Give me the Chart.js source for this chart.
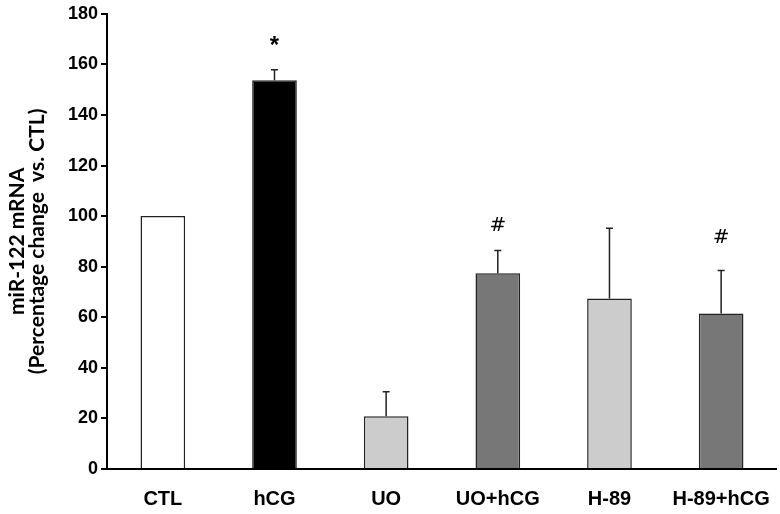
<!DOCTYPE html>
<html lang="en">
<head>
    <meta charset="UTF-8">
    <title>miR-122 mRNA</title>
    <style>
        body {
            margin: 0;
            padding: 0;
            background-color: #fff;
        }

        #chart-container {
            width: 780px;
            height: 514px;
        }
    </style>
</head>
<body>
    <div id="chart-container">
        <canvas id="chart"></canvas>
    </div>

    <script src="https://cdn.jsdelivr.net/npm/chart.js"></script>
    <script>
        var groups = ['CTL', 'hCG', 'UO', 'UO+hCG', 'H-89', 'H-89+hCG'];
        var means = [100, 153.7, 20.9, 77.4, 67.4, 61.5];
        var errors = [0, 4.2, 9.6, 9.0, 27.8, 17.0];
        var marks = ['', '*', '', '#', '', '#'];
        var markAt = [null, 169, null, 96, null, 91.5];
        var barColors = ['#ffffff', '#000000', '#cccccc', '#777777', '#cccccc', '#777777'];

        var tickFont = { family: 'Arial, "Liberation Sans", sans-serif', size: 18, weight: 'bold' };
        var labelFont = { family: 'Arial, "Liberation Sans", sans-serif', size: 20, weight: 'bold' };
        var titleFont = { family: 'Lato, "Open Sans", sans-serif', size: 21, weight: 'bold', lineHeight: 0.97 };

        // error bars (upward only) and significance marks
        var extras = {
            id: 'extras',
            afterDatasetsDraw: function(chart) {
                var ctx = chart.ctx;
                var x = chart.scales.x;
                var y = chart.scales.y;
                ctx.save();
                ctx.strokeStyle = '#222';
                ctx.lineWidth = 1.5;
                groups.forEach(function(g, i) {
                    var cx = x.getPixelForValue(i);
                    if (errors[i] > 0) {
                        var top = y.getPixelForValue(means[i]);
                        var tip = y.getPixelForValue(means[i] + errors[i]);
                        ctx.beginPath();
                        ctx.moveTo(cx, top);
                        ctx.lineTo(cx, tip);
                        ctx.moveTo(cx - 3.5, tip);
                        ctx.lineTo(cx + 3.5, tip);
                        ctx.stroke();
                    }
                    if (marks[i]) {
                        ctx.fillStyle = '#000';
                        ctx.textAlign = 'center';
                        ctx.textBaseline = 'middle';
                        if (marks[i] === '*') {
                            ctx.font = 'bold 24px Arial, "Liberation Sans", sans-serif';
                            ctx.fillText(marks[i], cx, y.getPixelForValue(markAt[i]) + 5);
                        } else {
                            ctx.font = '20px "DejaVu Sans", Arial, sans-serif';
                            ctx.fillText(marks[i], cx, y.getPixelForValue(markAt[i]));
                        }
                    }
                });
                ctx.restore();
            }
        };

        var ctx = document.getElementById('chart').getContext('2d');
        var myChart = new Chart(ctx, {
            type: 'bar',
            data: {
                labels: groups,
                datasets: [{
                    data: means,
                    backgroundColor: barColors,
                    borderColor: '#222',
                    borderWidth: 1.5,
                    categoryPercentage: 1.0,
                    barPercentage: 0.4
                }]
            },
            options: {
                responsive: true,
                maintainAspectRatio: false,
                animation: false,
                layout: {
                    padding: { top: 13, right: 3, left: 0, bottom: 0 }
                },
                plugins: {
                    legend: { display: false },
                    tooltip: { enabled: false }
                },
                scales: {
                    x: {
                        afterFit: function(scale) { scale.height = 45; },
                        grid: { display: false },
                        border: { display: true, color: '#000', width: 2 },
                        ticks: { color: '#000', font: labelFont, padding: 10 }
                    },
                    y: {
                        min: 0,
                        max: 180,
                        afterFit: function(scale) { scale.width = 107; },
                        grid: { drawOnChartArea: false, drawTicks: true, tickLength: 6, color: '#000', lineWidth: 2 },
                        border: { display: true, color: '#000', width: 2 },
                        ticks: { stepSize: 20, color: '#000', font: tickFont, padding: 3 },
                        title: {
                            display: true,
                            text: ['miR-122 mRNA', '(Percentage change  vs. CTL)'],
                            color: '#000',
                            font: titleFont,
                            padding: { top: 7, bottom: 0 }
                        }
                    }
                }
            },
            plugins: [extras]
        });
    </script>
</body>
</html>
